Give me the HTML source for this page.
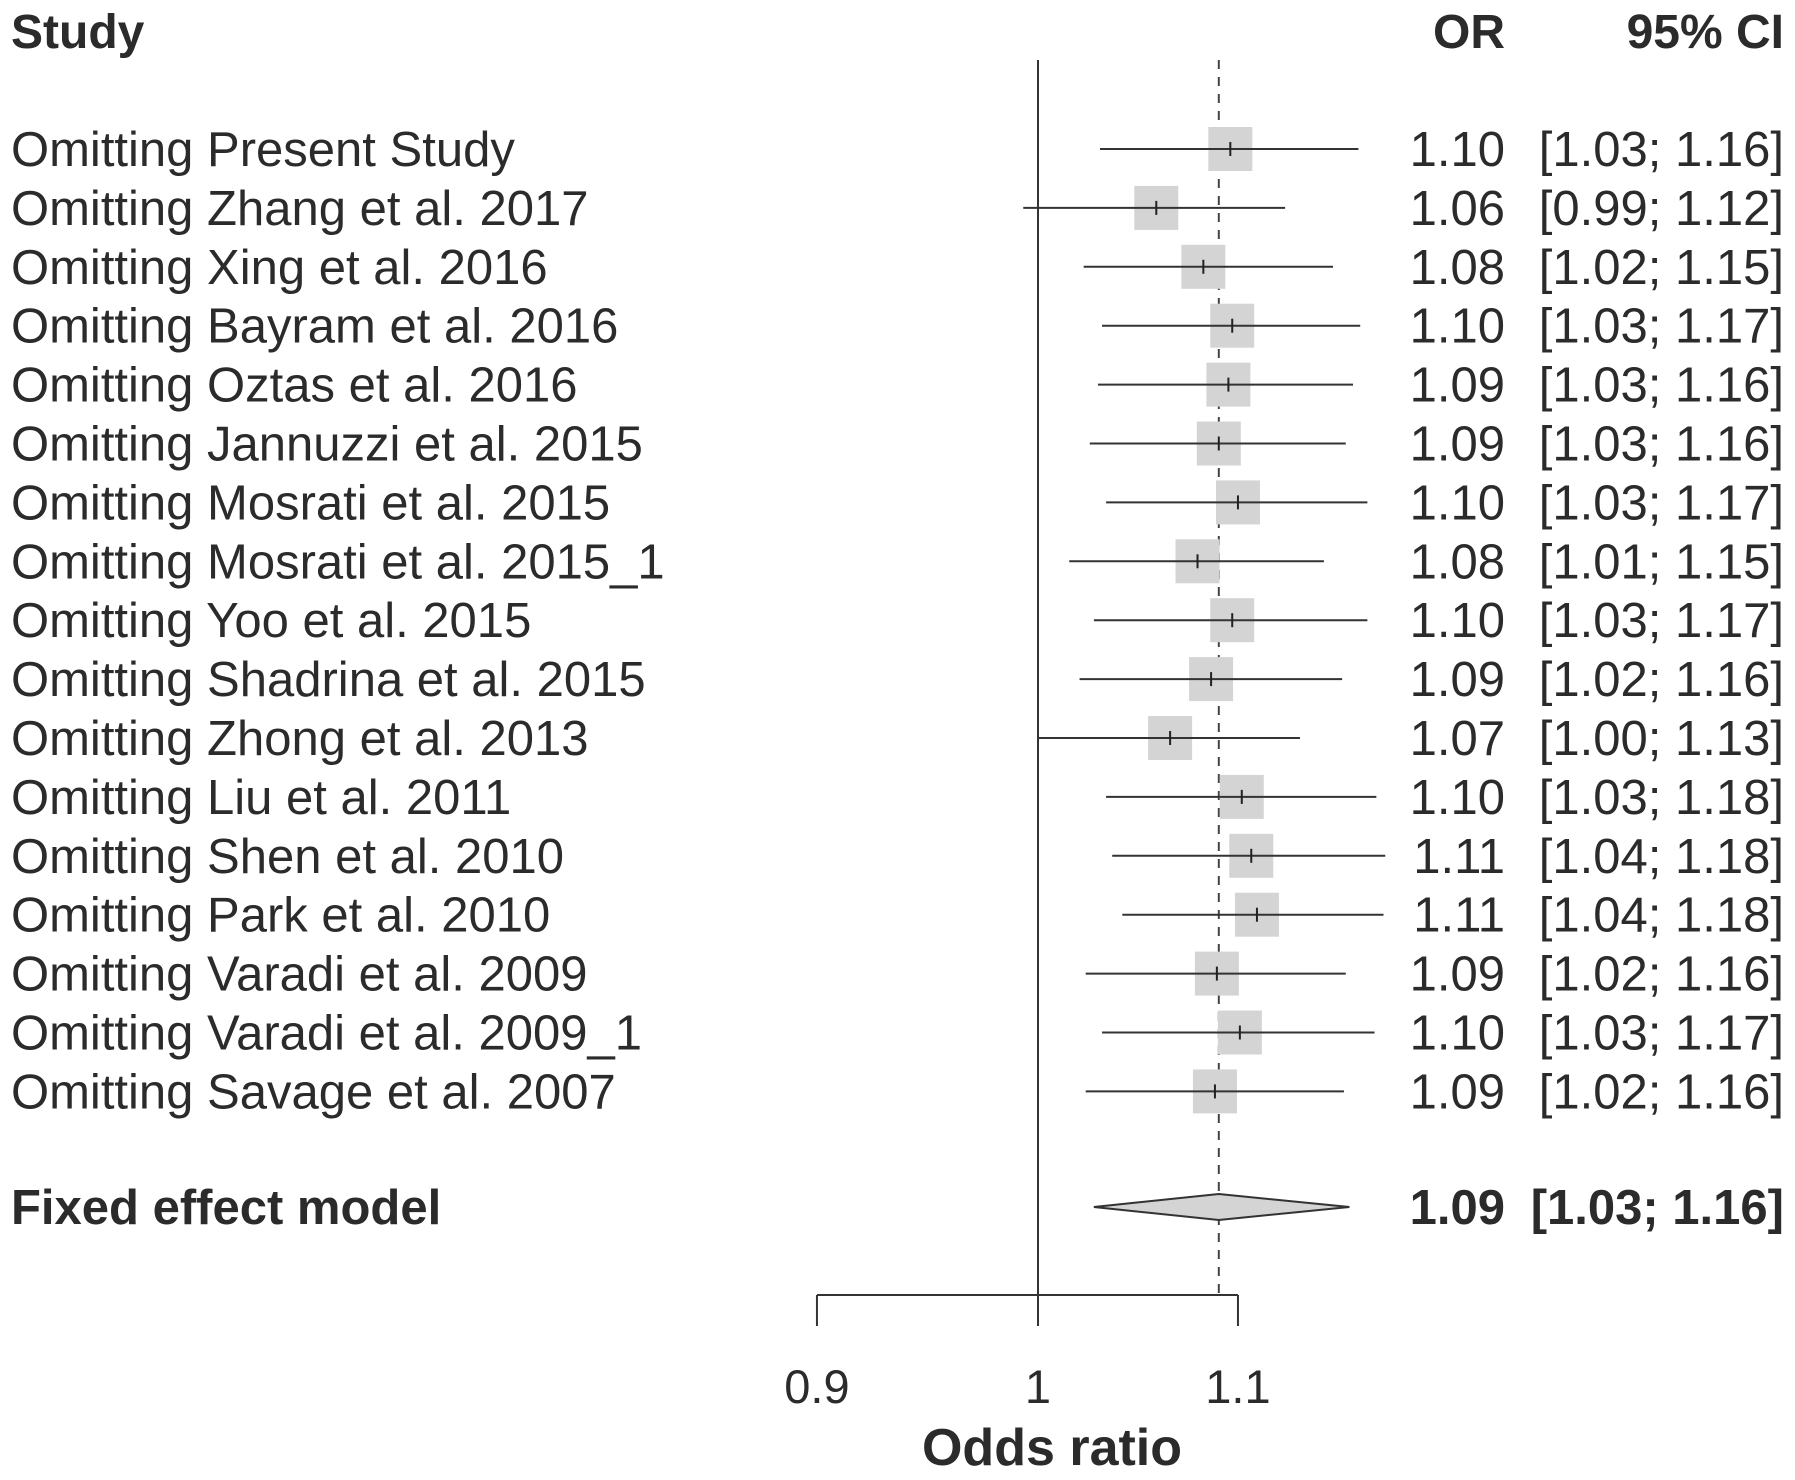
<!DOCTYPE html>
<html><head><meta charset="utf-8"><style>
html,body{margin:0;padding:0;background:#fff;}
svg{display:block;font-family:"Liberation Sans",Arial,sans-serif;}
</style></head><body>
<svg id="chart" width="1795" height="1480" viewBox="0 0 1795 1480" xmlns="http://www.w3.org/2000/svg">
<g id="headers" font-weight="bold" font-size="48" fill="#2b2b2b">
<text x="11" y="48">Study</text>
<text x="1505" y="48" text-anchor="end">OR</text>
<text x="1784" y="48" text-anchor="end">95% CI</text>
</g>
<g id="marks"></g>
<g id="labels"></g>
</svg>
<script>
const studies = ["Omitting Present Study","Omitting Zhang et al. 2017","Omitting Xing et al. 2016","Omitting Bayram et al. 2016","Omitting Oztas et al. 2016","Omitting Jannuzzi et al. 2015","Omitting Mosrati et al. 2015","Omitting Mosrati et al. 2015_1","Omitting Yoo et al. 2015","Omitting Shadrina et al. 2015","Omitting Zhong et al. 2013","Omitting Liu et al. 2011","Omitting Shen et al. 2010","Omitting Park et al. 2010","Omitting Varadi et al. 2009","Omitting Varadi et al. 2009_1","Omitting Savage et al. 2007"];
const orValues = [1.096,1.058,1.082,1.097,1.095,1.090,1.100,1.079,1.097,1.086,1.065,1.102,1.107,1.110,1.089,1.101,1.088];
const lowerCI = [1.03,0.993,1.022,1.031,1.029,1.025,1.033,1.015,1.027,1.02,1.00,1.033,1.036,1.041,1.023,1.031,1.023];
const upperCI = [1.165,1.125,1.151,1.166,1.162,1.158,1.17,1.146,1.17,1.156,1.133,1.175,1.18,1.179,1.158,1.174,1.157];
const orLabels = ["1.10","1.06","1.08","1.10","1.09","1.09","1.10","1.08","1.10","1.09","1.07","1.10","1.11","1.11","1.09","1.10","1.09"];
const ciLabels = ["[1.03; 1.16]","[0.99; 1.12]","[1.02; 1.15]","[1.03; 1.17]","[1.03; 1.16]","[1.03; 1.16]","[1.03; 1.17]","[1.01; 1.15]","[1.03; 1.17]","[1.02; 1.16]","[1.00; 1.13]","[1.03; 1.18]","[1.04; 1.18]","[1.04; 1.18]","[1.02; 1.16]","[1.03; 1.17]","[1.02; 1.16]"];
const pooled = [1.09, 1.027, 1.16];
const pooledLabel = ["1.09", "[1.03; 1.16]"];
const axisTicks = [0.9, 1, 1.1];
const axisTickLabels = ["0.9","1","1.1"];

const NS = "http://www.w3.org/2000/svg";
const X = v => 1038 + 2098 * Math.log(v);
const Y = i => 149 + 58.9 * i;
const marks = document.getElementById('marks');
const labels = document.getElementById('labels');
function mk(tag, attrs, parent){const e=document.createElementNS(NS,tag);for(const k in attrs)e.setAttribute(k,attrs[k]);parent.appendChild(e);return e;}

let ref = mk('line',{x1:X(1),x2:X(1),y1:60,y2:1326,stroke:'#333','stroke-width':2},marks);


let pl = mk('line',{x1:X(pooled[0]),x2:X(pooled[0]),y1:60,y2:1295,stroke:'#444','stroke-width':2,'stroke-dasharray':'9,8'},marks);



studies.forEach((s,i)=>{
  const y = Y(i);
  const sq = mk('rect',{x:X(orValues[i])-22,y:y-22,width:44,height:44,fill:'#d4d4d4'},marks);
  
  
  const ln = mk('line',{x1:X(lowerCI[i]),x2:X(upperCI[i]),y1:y,y2:y,stroke:'#333','stroke-width':2},marks);
  
  
  const tk = mk('line',{x1:X(orValues[i]),x2:X(orValues[i]),y1:y-7,y2:y+7,stroke:'#222','stroke-width':2},marks);
  
  
  const t1 = mk('text',{x:11,y:y+17,'font-size':49,fill:'#2b2b2b'},labels); t1.textContent=s;
  
  
  const t2 = mk('text',{x:1505,y:y+17,'font-size':49,fill:'#2b2b2b','text-anchor':'end'},labels); t2.textContent=orLabels[i];
  
  
  const t3 = mk('text',{x:1784,y:y+17,'font-size':49,fill:'#2b2b2b','text-anchor':'end'},labels); t3.textContent=ciLabels[i];
  
  
});

const dy = 1207;
const dm = mk('polygon',{points:`${X(pooled[1])},${dy} ${X(pooled[0])},${dy-13} ${X(pooled[2])},${dy} ${X(pooled[0])},${dy+13}`,fill:'#d4d4d4',stroke:'#333','stroke-width':2},marks);


const f1 = mk('text',{x:11,y:dy+17,'font-size':49,'font-weight':'bold',fill:'#2b2b2b'},labels); f1.textContent='Fixed effect model';


const f2 = mk('text',{x:1505,y:dy+17,'font-size':49,'font-weight':'bold',fill:'#2b2b2b','text-anchor':'end'},labels); f2.textContent=pooledLabel[0];


const f3 = mk('text',{x:1784,y:dy+17,'font-size':49,'font-weight':'bold',fill:'#2b2b2b','text-anchor':'end'},labels); f3.textContent=pooledLabel[1];



const ax = mk('line',{x1:X(axisTicks[0]),x2:X(axisTicks[axisTicks.length-1]),y1:1295,y2:1295,stroke:'#333','stroke-width':2},marks);


axisTicks.forEach((v,i)=>{
  const t = mk('line',{x1:X(v),x2:X(v),y1:1295,y2:1326,stroke:'#333','stroke-width':2},marks);
  
  
  const l = mk('text',{x:X(v),y:1403,'font-size':47,fill:'#2b2b2b','text-anchor':'middle'},labels); l.textContent=axisTickLabels[i];
  
  
});
const xt = mk('text',{x:1052,y:1465,'font-size':52,'font-weight':'bold',fill:'#2b2b2b','text-anchor':'middle'},labels); xt.textContent='Odds ratio';


</script>
</body></html>
